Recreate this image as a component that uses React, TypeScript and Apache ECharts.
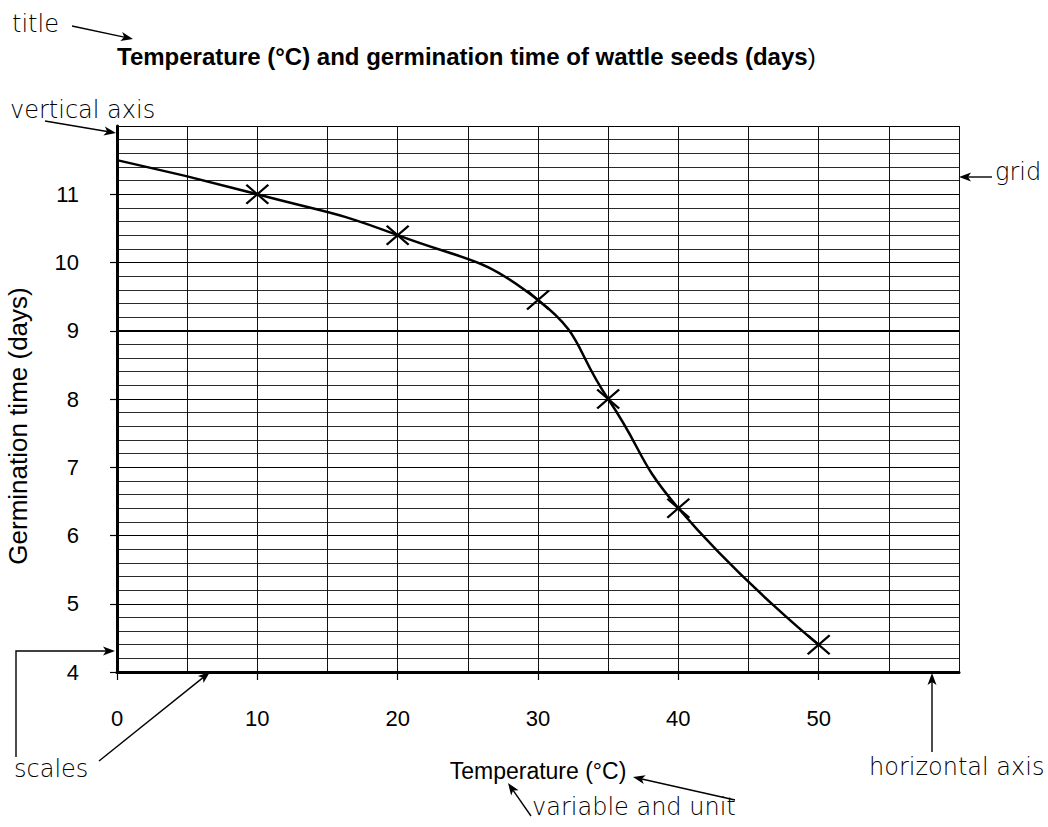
import React, { useEffect, useRef } from "react";
import * as echarts from "echarts";

// ---- data ----
const temperatures = [10, 20, 30, 35, 40, 50];
const germinationDays = [11, 10.4, 9.45, 8, 6.4, 4.4];
const curveStart = [0, 11.5];
const xTickValues = [0, 10, 20, 30, 40, 50];
const yTickValues = [4, 5, 6, 7, 8, 9, 10, 11];
const highlightedDay = 9;

const titleText = "Temperature (°C) and germination time of wattle seeds (days";
const xAxisName = "Temperature (°C)";
const yAxisName = "Germination time (days)";

// ---- annotation layout ----
const annotationTexts = [
  { text: "title", x: 12, y: 24 },
  { text: "vertical axis", x: 10, y: 110 },
  { text: "grid", x: 995, y: 172 },
  { text: "scales", x: 14, y: 769 },
  { text: "horizontal axis", x: 869, y: 767 },
  { text: "variable and unit", x: 532, y: 807 },
];

const annotationArrows: number[][][] = [
  [[72, 26], [133, 39]],
  [[45, 121], [116, 133]],
  [[992, 177], [959, 177]],
  [[16, 757], [16, 651], [115, 651]],
  [[99, 761], [210, 672]],
  [[932, 752], [932, 673]],
  [[531, 816], [508, 783]],
  [[735, 800], [633, 777]],
];

function arrowElements(points: number[][]) {
  const n = points.length;
  const [x2, y2] = points[n - 1];
  const [x1, y1] = points[n - 2];
  const len = Math.hypot(x2 - x1, y2 - y1);
  const ux = (x2 - x1) / len;
  const uy = (y2 - y1) / len;
  const px = -uy;
  const py = ux;
  const head = 12;
  const half = 4.5;
  const bx = x2 - ux * head;
  const by = y2 - uy * head;
  const nx = x2 - ux * head * 0.75;
  const ny = y2 - uy * head * 0.75;
  return [
    {
      type: "polyline",
      shape: { points: [...points.slice(0, n - 1), [nx, ny]] },
      style: { stroke: "#000", lineWidth: 1.4, fill: null },
      silent: true,
    },
    {
      type: "polygon",
      shape: {
        points: [
          [x2, y2],
          [bx + px * half, by + py * half],
          [nx, ny],
          [bx - px * half, by - py * half],
        ],
      },
      style: { fill: "#000" },
      silent: true,
    },
  ];
}

export default function App() {
  const ref = useRef<HTMLDivElement>(null);

  useEffect(() => {
    if (!ref.current) return;
    const chart = echarts.init(ref.current, null, { renderer: "svg" });

    const measured = temperatures.map((t, i) => [t, germinationDays[i]]);
    const curve = [curveStart, ...measured];

    const graphicElements: any[] = [];
    annotationTexts.forEach((a) => {
      graphicElements.push({
        type: "text",
        x: a.x,
        y: a.y,
        silent: true,
        style: {
          text: a.text,
          fontFamily: "DejaVu Sans",
          fontSize: 24,
          fontWeight: 200,
          fill: "#000",
          align: "left",
          verticalAlign: "middle",
        },
      });
    });
    annotationArrows.forEach((pts) => graphicElements.push(...arrowElements(pts)));

    const axisFont = "Liberation Sans";

    chart.setOption({
      animation: false,
      backgroundColor: "#fff",
      title: {
        text: "{b|" + titleText + "}{n|)}",
        left: 117,
        top: 44,
        padding: 0,
        textStyle: {
          rich: {
            b: { fontFamily: axisFont, fontSize: 24, fontWeight: "bold", color: "#000" },
            n: { fontFamily: axisFont, fontSize: 24, fontWeight: "normal", color: "#000" },
          },
        },
      },
      grid: {
        left: 117,
        right: 89,
        top: 126,
        bottom: 155,
        containLabel: false,
        outerBoundsMode: "none",
      },
      xAxis: [
        {
          type: "value",
          position: "bottom",
          min: 0,
          max: 60,
          interval: 5,
          axisLine: { show: true, lineStyle: { color: "#000", width: 3 } },
          axisTick: { show: false },
          axisLabel: { show: false },
          splitLine: { show: true, lineStyle: { color: "#111", width: 1 } },
          name: xAxisName,
          nameLocation: "middle",
          nameGap: 87,
          nameTextStyle: { fontFamily: axisFont, fontSize: 23, color: "#000" },
        },
        {
          type: "value",
          position: "bottom",
          offset: 0,
          min: 0,
          max: 60,
          interval: 10,
          axisLine: { show: false },
          axisTick: {
            show: true,
            customValues: xTickValues,
            length: 8,
            lineStyle: { color: "#000", width: 1.2 },
          },
          axisLabel: {
            show: true,
            customValues: xTickValues,
            margin: 35,
            fontFamily: axisFont,
            fontSize: 22,
            color: "#000",
          },
          splitLine: { show: false },
        },
      ],
      yAxis: [
        {
          type: "value",
          position: "left",
          min: 4,
          max: 12,
          interval: 1,
          axisLine: { show: true, onZero: false, lineStyle: { color: "#000", width: 3 } },
          axisTick: { show: false },
          axisLabel: { show: false },
          splitLine: { show: true, lineStyle: { color: "#000", width: 1 } },
          minorTick: { show: false, splitNumber: 5 },
          minorSplitLine: { show: true, lineStyle: { color: "#2a2a2a", width: 1 } },
          name: yAxisName,
          nameLocation: "middle",
          nameGap: 86,
          nameTextStyle: {
            fontFamily: axisFont,
            fontSize: 26,
            color: "#000",
            padding: [0, 54, 0, 0],
          },
        },
        {
          type: "value",
          position: "left",
          offset: 0,
          min: 4,
          max: 12,
          interval: 1,
          axisLine: { show: false },
          axisTick: {
            show: true,
            customValues: yTickValues,
            length: 7,
            lineStyle: { color: "#000", width: 1.2 },
          },
          axisLabel: {
            show: true,
            customValues: yTickValues,
            margin: 38,
            fontFamily: axisFont,
            fontSize: 22,
            color: "#000",
          },
          splitLine: { show: false },
        },
      ],
      series: [
        {
          type: "line",
          xAxisIndex: 0,
          yAxisIndex: 0,
          data: curve,
          smooth: 0.5,
          symbol: "none",
          lineStyle: { color: "#000", width: 2.5 },
          z: 5,
          markLine: {
            silent: true,
            symbol: ["none", "none"],
            label: { show: false },
            lineStyle: { color: "#000", width: 2, type: "solid" },
            data: [{ yAxis: highlightedDay }],
            z: 3,
          },
        },
        {
          type: "scatter",
          xAxisIndex: 0,
          yAxisIndex: 0,
          data: measured,
          symbol: "path://M0,0L20,18M20,0L0,18",
          symbolSize: [22, 19],
          itemStyle: { color: "none", borderColor: "#000", borderWidth: 2.2, opacity: 1 },
          z: 6,
        },
      ],
      graphic: { elements: graphicElements },
    });

    return () => chart.dispose();
  }, []);

  return (
    <div
      ref={ref}
      style={{ position: "fixed", left: 0, top: 0, width: 1048, height: 827, background: "#fff" }}
    />
  );
}
